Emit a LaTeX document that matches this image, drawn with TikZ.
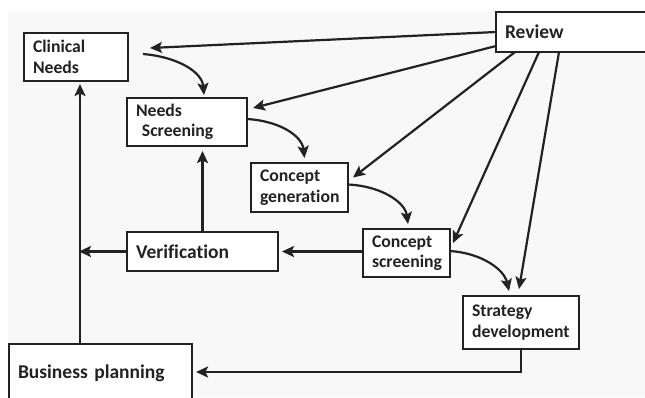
\documentclass[tikz,border=0pt]{standalone}
\usepackage{fontspec}
\setmainfont{Carlito}[Ligatures=NoCommon]
\usetikzlibrary{arrows.meta,calc}
\hyphenpenalty=10000
\exhyphenpenalty=10000

\definecolor{ink}{HTML}{222222}
\definecolor{paper}{HTML}{F8F8F8}

\tikzset{
  box/.style={draw=ink, line width=2.2pt, fill=white, outer sep=0pt,
    inner xsep=9pt, inner ysep=0pt, align=left, anchor=north west,
    text=ink, font=\fontsize{17.7}{20.5}\selectfont\bfseries},
  bigbox/.style={box, font=\fontsize{19.5}{22}\selectfont\bfseries},
  arr/.style={draw=ink, line width=2.2pt,
    -{Stealth[length=12pt,width=11pt,inset=2.5pt]}}
}

\begin{document}
\begin{tikzpicture}[x=1pt, y=-1pt]

\useasboundingbox (0,0) rectangle (645,397);
\fill[paper] (8,11) rectangle (645,397);

% Boxes
\node[box, text width=86pt, minimum height=48pt] (clin) at (24,33) {Clinical\\Needs};
\node[box, text width=102pt, minimum height=48pt] (needs) at (127,98) {Needs\\\ Screening};
\node[box, text width=79pt, minimum height=49pt] (cgen) at (251,163) {Concept\\generation};
\node[box, text width=69pt, minimum height=48pt] (cscr) at (363,229) {Concept\\screening};
\node[box, text width=98pt, minimum height=53pt] (strat) at (463,296) {Strategy\\development};
\node[bigbox, text width=133pt, minimum height=39pt] (verif) at (127,232) {Verification};
\node[bigbox, text width=165pt, minimum height=58pt] (busi) at (9,344) {Business planning};
\node[bigbox, text width=150pt, minimum height=40pt] (review) at (496,12) {Review};

% Review feedback
\draw[arr] (review.west) -- ($(clin.east)+(22,-9)$);
\draw[arr] ($(review.south west)+(0,-6)$) -- ($(needs.east)+(6,-14)$);
\draw[arr] ($(review.south west)+(19,0)$) -- ($(cgen.east)+(5,-10)$);
\draw[arr] ($(review.south west)+(43,0)$) -- ($(cscr.east)+(3,-10)$);
\draw[arr] ($(review.south west)+(63,0)$) -- ($(strat.north)+(-2,-7)$);

% Main flow
\draw[arr] ($(clin.east)+(15,-3)$) .. controls (178,57) and (202,72) .. ($(needs.north)+(17,-3)$);
\draw[arr] ($(needs.east)+(0,-3)$) .. controls (280,121) and (302,136) .. ($(cgen.north)+(5,-5)$);
\draw[arr] ($(cgen.east)+(0,-3)$) .. controls (381,186) and (405,202) .. ($(cscr.north)+(1.5,-5)$);
\draw[arr] ($(cscr.east)+(0,-2)$) .. controls (481,253) and (504,269) .. ($(strat.north)+(-12,-5)$);

% Verification loop
\draw[arr] (cscr.west |- verif.east) -- ($(verif.east)+(4,0)$);
\draw[arr] (verif.north) -- ($(verif.north |- needs.south)+(0,5)$);
\coordinate (trunk) at ($(busi.north west)+(71,0)$);
\draw[arr] (trunk) -- ($(trunk |- clin.south)+(0,3)$);
\draw[arr] (verif.west) -- ($(trunk |- verif.west)+(-1,0)$);

% Strategy to business
\draw[arr] (strat.south) |- ($(busi.east)+(4,-1)$);

\end{tikzpicture}
\end{document}
